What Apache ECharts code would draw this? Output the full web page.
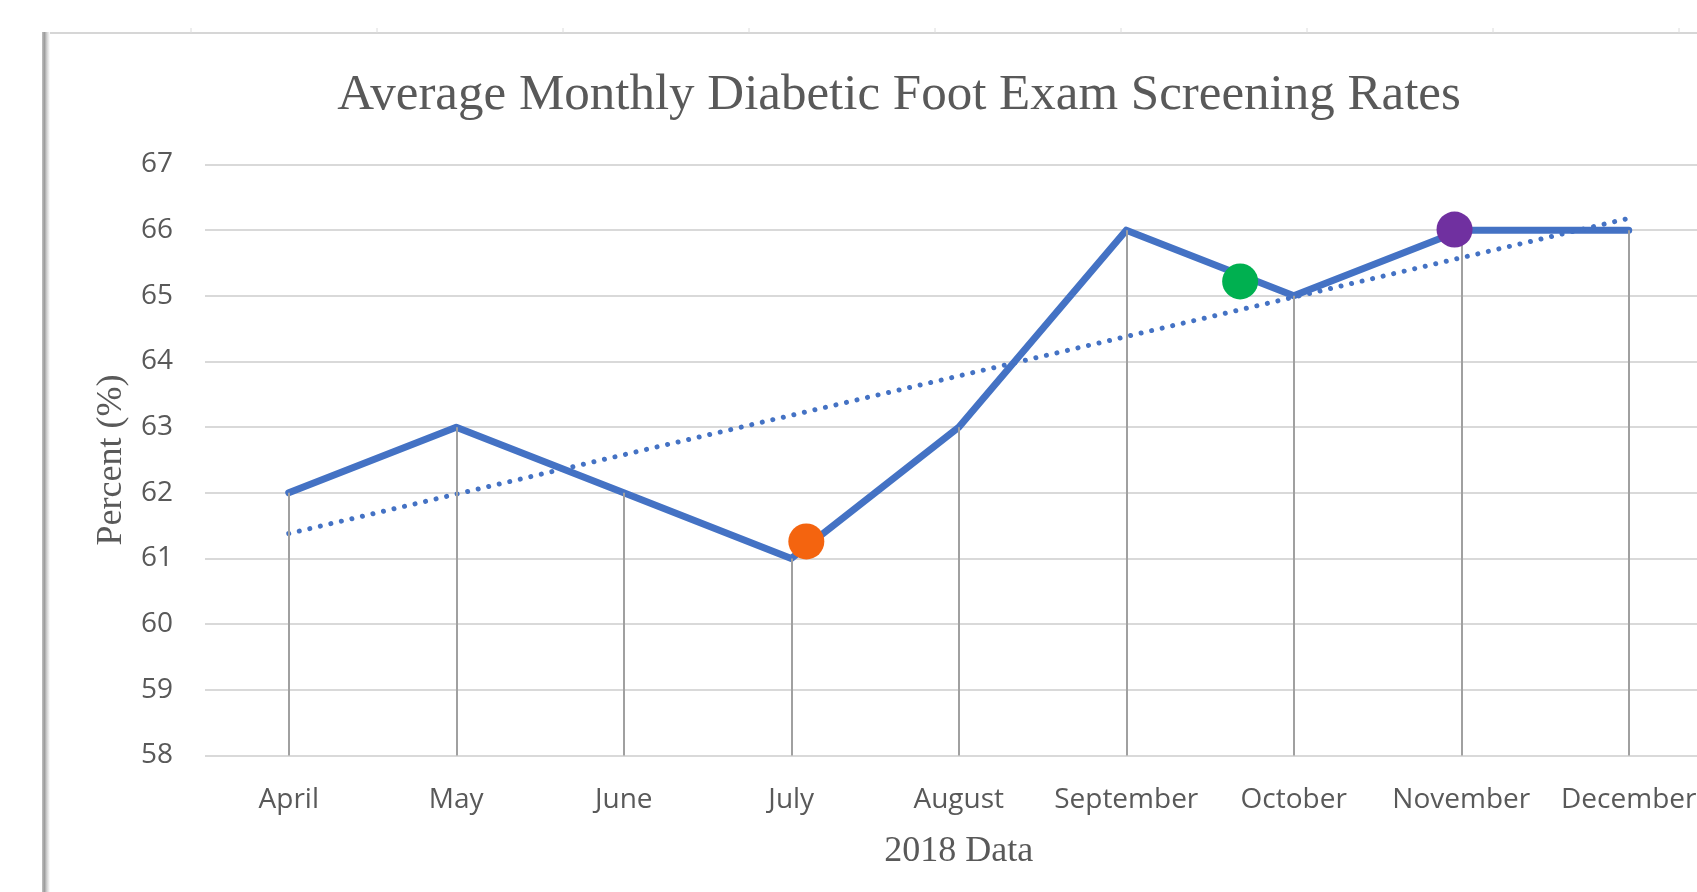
<!DOCTYPE html>
<html>
<head>
<meta charset="utf-8">
<script src="https://cdn.jsdelivr.net/npm/echarts@6/dist/echarts.min.js"></script>
<style>
html,body{margin:0;padding:0;background:#fff;}
#chart{width:1697px;height:892px;}
</style>
</head>
<body>
<div id="chart"></div>
<script>
// ---- data ----
var months = ['April','May','June','July','August','September','October','November','December'];
var rates = [62, 63, 62, 61, 63, 66, 65, 66, 66];
// dotted linear trendline: read at April and December
var trendMonths = ['April','December'];
var trendValues = [61.38, 66.18];
// coloured markers: [category position, value]
var orangeDot = [3.09, 61.26];
var greenDot = [5.68, 65.22];
var purpleDot = [6.96, 66.01];
var yTicks = {min: 58, max: 67, step: 1};

var chart = echarts.init(document.getElementById('chart'), null, {renderer: 'canvas'});

var trendData = months.map(function (m) {
  var k = trendMonths.indexOf(m);
  return k >= 0 ? trendValues[k] : null;
});

var dropLines = months.map(function (m, i) {
  return [{coord: [m, rates[i]]}, {coord: [m, yTicks.min]}];
});

var sheetTicks = [];
for (var x = 191; x < 1697; x += 186) {
  sheetTicks.push({type: 'line', silent: true, shape: {x1: x, y1: 28, x2: x, y2: 33},
    style: {stroke: '#dcdcdc', lineWidth: 1}});
}

var option = {
  animation: false,
  backgroundColor: '#ffffff',
  textStyle: {fontFamily: 'Open Sans'},
  title: {
    text: 'Average Monthly Diabetic Foot Exam Screening Rates',
    left: 894, top: 65, textAlign: 'center',
    textStyle: {fontFamily: 'Liberation Serif', fontSize: 51, fontWeight: 'normal', color: '#595959', lineHeight: 52}
  },
  graphic: [
    {type: 'line', silent: true, shape: {x1: 44, y1: 33, x2: 1697, y2: 33}, style: {stroke: '#d6d6d6', lineWidth: 2}},
    {type: 'rect', silent: true, shape: {x: 42, y: 32, width: 8, height: 860},
      style: {fill: new echarts.graphic.LinearGradient(0, 0, 1, 0, [
        {offset: 0, color: '#c0c0c0'}, {offset: 0.3, color: '#9c9c9c'}, {offset: 0.6, color: '#d0d0d0'}, {offset: 1, color: '#ffffff'}])}}
  ].concat(sheetTicks),
  grid: {left: 205, top: 164.5, width: 1507.5, height: 591, containLabel: false, outerBoundsMode: 'none'},
  xAxis: [{
    type: 'category',
    data: months,
    boundaryGap: true,
    axisLine: {show: false},
    axisTick: {show: false},
    axisLabel: {color: '#595959', fontSize: 28, fontFamily: 'Open Sans', margin: 31, lineHeight: 28, interval: 0},
    name: '2018 Data',
    nameLocation: 'middle',
    nameGap: 78,
    nameTextStyle: {fontFamily: 'Liberation Serif', fontSize: 36, color: '#595959', lineHeight: 36}
  }, {
    type: 'value', min: -0.5, max: 8.5, show: false
  }],
  yAxis: {
    type: 'value',
    min: yTicks.min, max: yTicks.max, interval: yTicks.step,
    axisLine: {show: false},
    axisTick: {show: false},
    axisLabel: {color: '#595959', fontSize: 28, fontFamily: 'Open Sans', margin: 32},
    splitLine: {show: true, lineStyle: {color: '#d9d9d9', width: 2}},
    name: 'Percent (%)',
    nameLocation: 'middle',
    nameGap: 75,
    nameTextStyle: {fontFamily: 'Liberation Serif', fontSize: 36, color: '#595959', lineHeight: 36}
  },
  series: [
    {
      name: 'drop', type: 'line', data: rates, z: 1, symbol: 'none', silent: true,
      lineStyle: {opacity: 0},
      markLine: {
        silent: true, symbol: ['none', 'none'], label: {show: false},
        lineStyle: {color: '#a0a0a0', width: 2, type: 'solid'},
        emphasis: {disabled: true},
        data: dropLines
      }
    },
    {
      name: 'rate', type: 'line', data: rates, z: 3, symbol: 'none',
      lineStyle: {color: '#4472C4', width: 7, join: 'round', cap: 'round'}
    },
    {
      name: 'trend', type: 'line', data: trendData, connectNulls: true, z: 4, symbol: 'none',
      lineStyle: {color: '#4472C4', width: 5, type: [0.01, 10.8], cap: 'round'}
    },
    {
      name: 'marks', type: 'scatter', xAxisIndex: 1, z: 5, symbolSize: 36,
      itemStyle: {opacity: 1},
      data: [
        {value: orangeDot, itemStyle: {color: '#F4640F', opacity: 1}},
        {value: greenDot, itemStyle: {color: '#00B050', opacity: 1}},
        {value: purpleDot, itemStyle: {color: '#7030A0', opacity: 1}}
      ]
    }
  ]
};
chart.setOption(option);
</script>
</body>
</html>
